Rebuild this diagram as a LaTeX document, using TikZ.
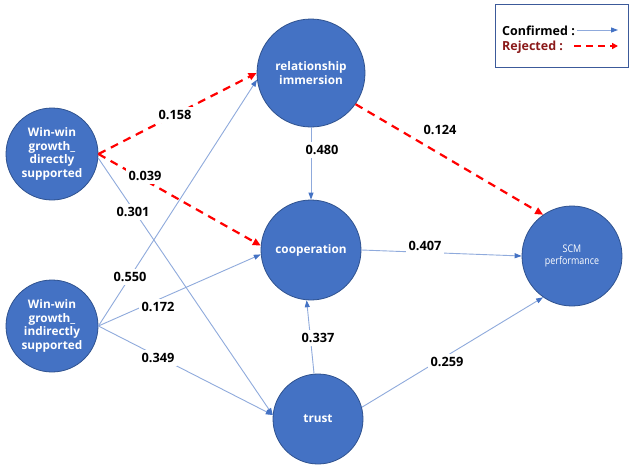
\documentclass[tikz,border=0pt]{standalone}
\usepackage{fontspec}
\setmainfont{Open Sans}
\newfontfamily\scmfont[FakeStretch=0.85]{Open Sans}
\usetikzlibrary{arrows.meta}
\definecolor{nodefill}{HTML}{4472C4}
\definecolor{nodeedge}{HTML}{2F528F}
\definecolor{lineblue}{HTML}{8FAADC}
\definecolor{tipblue}{HTML}{4472C4}
\definecolor{rejred}{HTML}{FF0000}
\definecolor{rejtext}{HTML}{8B1A1A}
\definecolor{legedge}{HTML}{3C5A9A}
\tikzset{
  construct/.style={circle, fill=nodefill, draw=nodeedge, line width=0.8pt, inner sep=0pt,
    text=white, align=center, font=\bfseries\fontsize{11.8}{13.5}\selectfont},
  conf/.style={draw=lineblue, line width=0.9pt, -{Triangle[length=7pt,width=5pt,color=tipblue]}},
  rej/.style={draw=rejred, line width=2.2pt, dash pattern=on 8pt off 6pt, -{Triangle[length=8pt,width=7pt]}},
  coef/.style={fill=white, inner sep=3pt, font=\bfseries\fontsize{12.8}{14}\selectfont},
  legtext/.style={anchor=west, inner sep=0pt, font=\bfseries\fontsize{12.5}{14}\selectfont}
}
\begin{document}
\begin{tikzpicture}[x=1pt,y=-1pt]
\useasboundingbox (0,0) rectangle (631,466);
\fill[white] (0,0) rectangle (631,466);

% constructs
\node[construct, minimum size=92pt] (wwd) at (52,154) {Win-win\\growth\_\\directly\\supported};
\node[construct, minimum size=92pt] (wwi) at (52,326) {Win-win\\growth\_\\indirectly\\supported};
\node[construct, minimum size=108pt] (ri) at (311,73) {relationship\\immersion};
\node[construct, minimum size=100pt] (coop) at (311,250) {cooperation};
\node[construct, minimum size=90pt] (trust) at (318,419) {trust};
\node[construct, minimum size=100pt, font=\scmfont\fontsize{10.5}{12.5}\selectfont] (scm) at (572,256) {SCM\\performance};

% rejected paths
\draw[rej] (wwd.east) -- (ri.west);
\draw[rej] (wwd.east) -- (coop.175);
\draw[rej] (ri.-35) -- (scm.125);

% confirmed paths
\draw[conf] (wwd.-5) -- (trust.175);
\draw[conf] (wwi.east) -- (ri.187);
\draw[conf] (wwi.east) -- (coop.185);
\draw[conf] (wwi.east) -- (trust.175);
\draw[conf] (ri.south) -- (coop.north);
\draw[conf] (coop.east) -- (scm.west);
\draw[conf] (trust.95) -- (coop.-95);
\draw[conf] (trust.15) -- (scm.-125);

% coefficients
\node[coef] (c158) at (175,115) {0.158};
\node[coef] (c039) at (145,176) {0.039};
\node[coef] (c301) at (133,212) {0.301};
\node[coef] (c550) at (130,277) {0.550};
\node[coef] (c172) at (158,307) {0.172};
\node[coef] (c349) at (158,358) {0.349};
\node[coef] (c480) at (322,150) {0.480};
\node[coef] (c124) at (440,130) {0.124};
\node[coef] (c407) at (425,246) {0.407};
\node[coef] (c337) at (318,338) {0.337};
\node[coef] (c259) at (447,362) {0.259};

% legend
\node[draw=legedge, line width=1pt, fill=white, minimum width=133pt, minimum height=63pt, inner sep=0pt] (legend) at (561.5,35.5) {};
\node[legtext] (lconf) at (502,31) {Confirmed :};
\node[legtext, text=rejtext] (lrej) at (502,47) {Rejected :};
\coordinate (confa) at (577,30);
\coordinate (confb) at (618,30);
\coordinate (reja) at (574,46);
\coordinate (rejb) at (618,46);
\draw[conf] (confa) -- (confb);
\draw[draw=rejred, line width=1.8pt, dash pattern=on 7pt off 5pt, -{Triangle[length=6pt,width=6pt]}] (reja) -- (rejb);
\end{tikzpicture}
\end{document}
